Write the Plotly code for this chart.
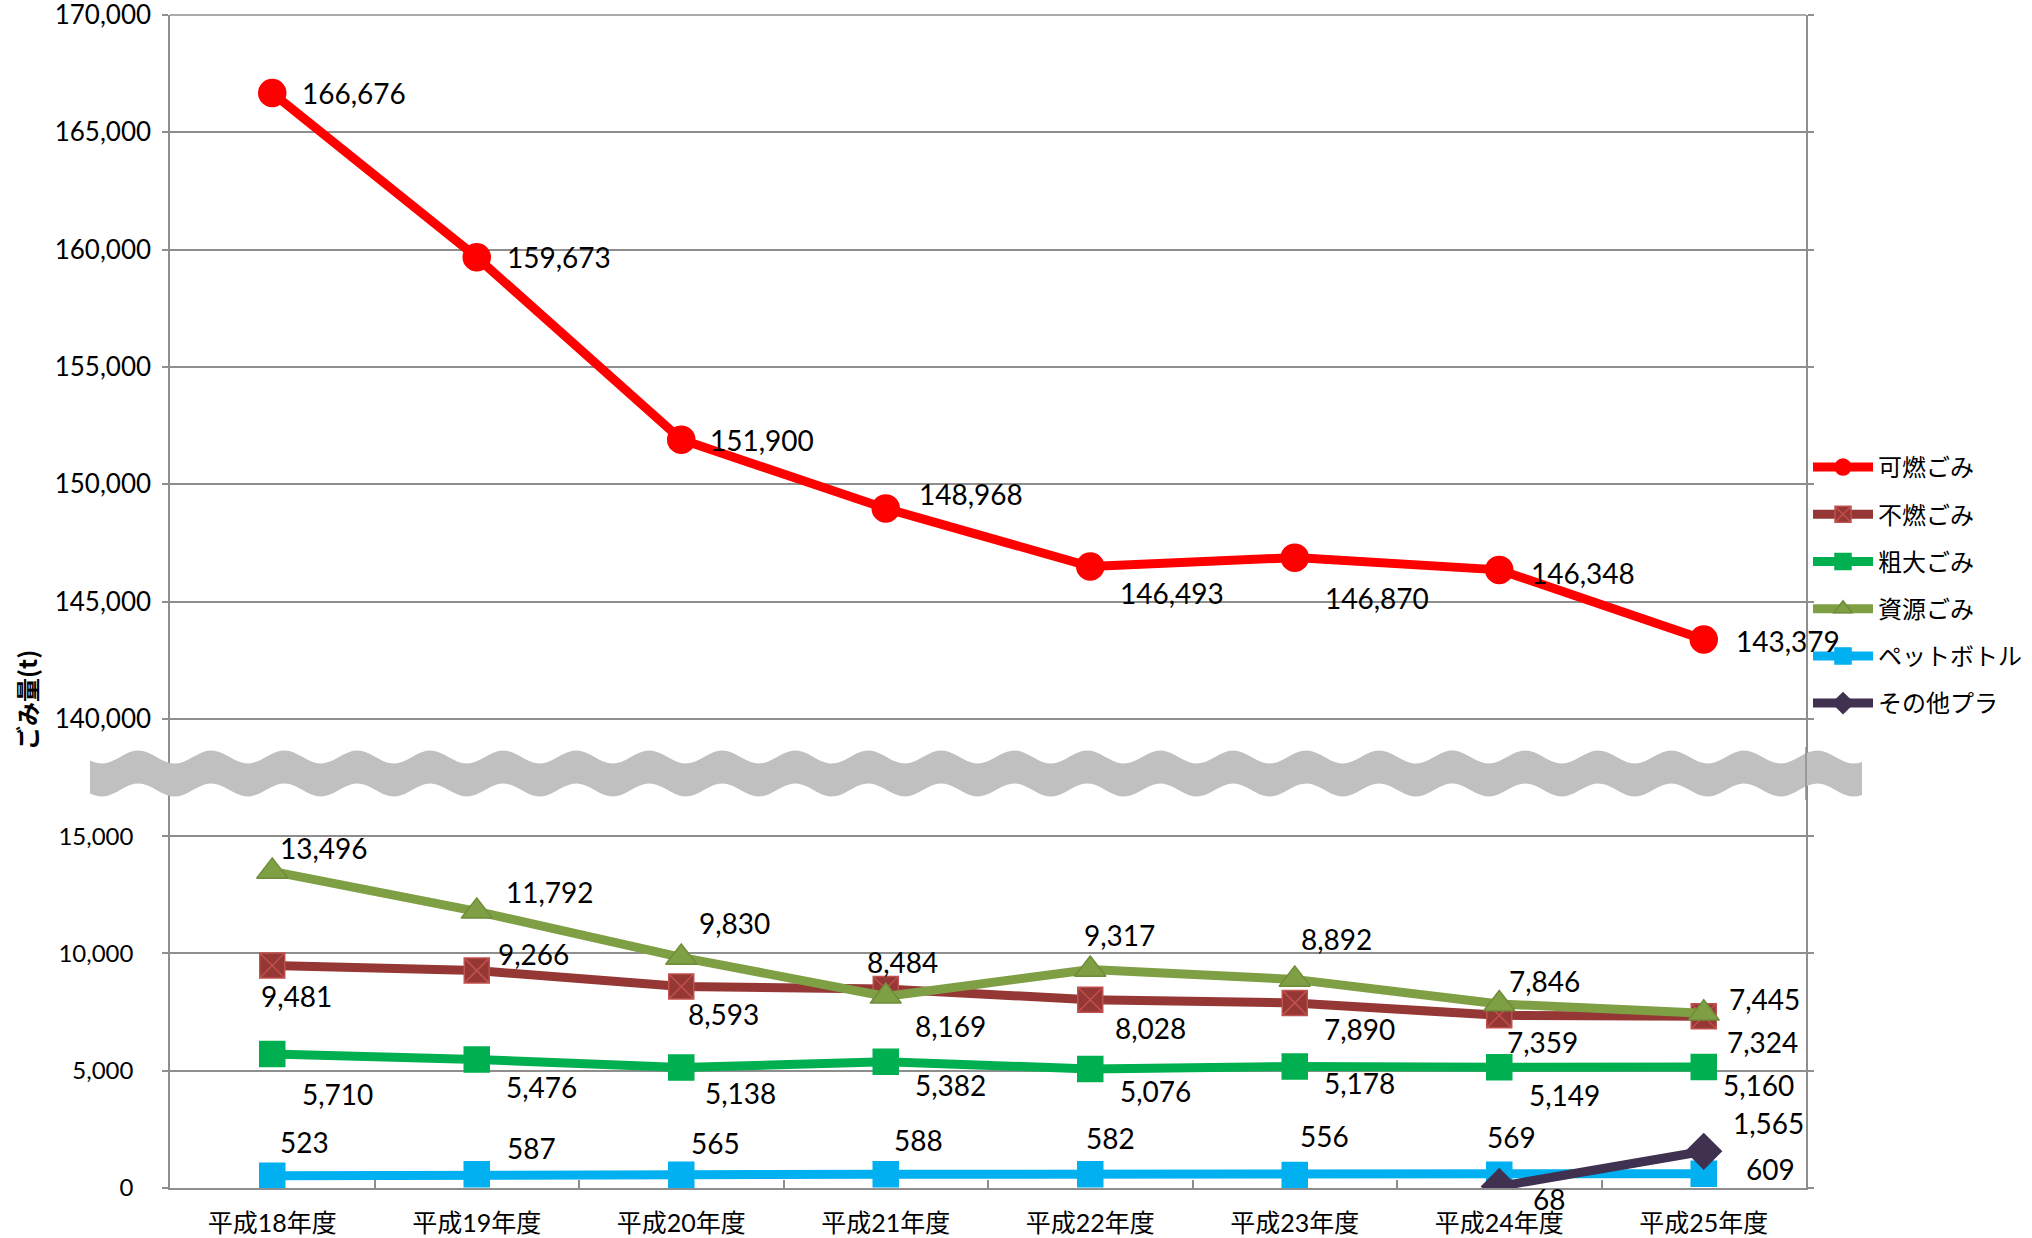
import math
import plotly.graph_objects as go

# ---------------- data ----------------
categories = ["平成18年度", "平成19年度", "平成20年度", "平成21年度",
              "平成22年度", "平成23年度", "平成24年度", "平成25年度"]

kanen = [166676, 159673, 151900, 148968, 146493, 146870, 146348, 143379]   # 可燃ごみ
funen = [9481, 9266, 8593, 8484, 8028, 7890, 7359, 7324]                   # 不燃ごみ
sodai = [5710, 5476, 5138, 5382, 5076, 5178, 5149, 5160]                   # 粗大ごみ
shigen = [13496, 11792, 9830, 8169, 9317, 8892, 7846, 7445]                # 資源ごみ
pet = [523, 587, 565, 588, 582, 556, 569, 609]                             # ペットボトル
sonota = [None, None, None, None, None, None, 68, 1565]                    # その他プラ

top_ticks = [140000, 145000, 150000, 155000, 160000, 165000, 170000]
bottom_ticks = [0, 5000, 10000, 15000]

# ---------------- style / layout helpers ----------------
W, H = 2032, 1238
ML, MR, MT, MB = 170, 226, 15, 50
PW, PH = W - ML - MR, H - MT - MB
NUMFONT = "Lato, 'Noto Sans CJK JP', sans-serif"
JPFONT = "'Noto Sans CJK JP', sans-serif"
GRID = "#8E8E8E"

series = [
    # name, values, axis, color, symbol, size, marker line color, label dx, label dy
    ("可燃ごみ", kanen, "y2", "#FF0000", "circle", 27, "#FF0000",
     [28, 28, 27, 31, 28, 28, 30, 30], [0, 0, 0, -14, 27, 40, 3, 1]),
    ("不燃ごみ", funen, "y", "#953735", "square-x", 25, "#C0504D",
     [-13, 19, 5, -21, 23, 27, 6, 21], [30, -17, 28, -27, 28, 26, 27, 26]),
    ("粗大ごみ", sodai, "y", "#00B050", "square", 25, "#00B050",
     [28, 27, 22, 27, 28, 27, 28, 17], [40, 27, 26, 23, 22, 16, 28, 18]),
    ("資源ごみ", shigen, "y", "#7F9F45", "triangle-up", 27, "#6E8C39",
     [6, 27, 16, 27, -8, 4, 8, 23], [-23, -19, -34, 30, -34, -40, -23, -14]),
    ("ペットボトル", pet, "y", "#00B0F0", "square", 25, "#00B0F0",
     [6, 28, 8, 6, -6, 3, -14, 40], [-34, -26, -32, -34, -36, -39, -38, -5]),
    ("その他プラ", sonota, "y", "#403151", "diamond", 27, "#403151",
     [0, 0, 0, 0, 0, 0, 32, 27], [0, 0, 0, 0, 0, 0, 13, -28]),
]

fig = go.Figure()
annotations = []
for name, vals, ax, color, sym, size, lcol, ldx, ldy in series:
    fig.add_trace(go.Scatter(
        x=categories, y=vals, name=name, yaxis=ax, mode="lines+markers",
        line=dict(color=color, width=9),
        marker=dict(symbol=sym, size=size, color=color,
                    line=dict(color=lcol, width=1.5)),
        legendgroup=name, connectgaps=False,
    ))
    for i, v in enumerate(vals):
        if v is None:
            continue
        annotations.append(dict(
            x=categories[i], y=v, xref="x", yref=ax,
            text=f"{v:,}", showarrow=False,
            xanchor="left", yanchor="middle",
            xshift=ldx[i], yshift=-ldy[i],
            font=dict(family=NUMFONT, size=28, color="#000000"),
        ))

# y-axis title
annotations.append(dict(
    x=(26 - ML) / PW, y=(H - MB - 700) / PH, xref="paper", yref="paper",
    text="<b>ごみ量(t)</b>", textangle=-90, showarrow=False,
    xanchor="center", yanchor="middle",
    font=dict(family=JPFONT, size=24, color="#000000"),
))

# ---------------- axis break band (decoration) ----------------
def px2paper(px, py):
    return (px - ML) / PW, (H - MB - py) / PH

x_start, x_end = 90, 1862
period, amp = 73.0, 6.5
top_c, bot_c = 757, 790
n = 400
pts_top, pts_bot = [], []
for k in range(n + 1):
    px = x_start + (x_end - x_start) * k / n
    off = amp * math.sin(2 * math.pi * (px - 120) / period)
    pts_top.append(px2paper(px, top_c - off))
    pts_bot.append(px2paper(px, bot_c - off))
path = "M " + " L ".join(f"{a:.5f},{b:.5f}" for a, b in pts_top)
path += " L " + " L ".join(f"{a:.5f},{b:.5f}" for a, b in reversed(pts_bot)) + " Z"

shapes = [
    # top gridline (170,000) that plotly clips at the axis end
    dict(type="line", xref="paper", yref="paper", x0=0, x1=1, y0=1, y1=1,
         line=dict(color=GRID, width=1.5), layer="below"),
    dict(type="path", path=path, xref="paper", yref="paper",
         fillcolor="#C0C0C0", line=dict(width=0), layer="above"),
    dict(type="line", xref="paper", yref="paper", x0=1, x1=1,
         y0=px2paper(0, bot_c + 10)[1], y1=px2paper(0, top_c - 10)[1],
         line=dict(color=GRID, width=1.5), layer="above"),
]

fig.update_layout(
    width=W, height=H,
    margin=dict(l=ML, r=MR, t=MT, b=MB, pad=0, autoexpand=False),
    paper_bgcolor="white", plot_bgcolor="white",
    showlegend=True,
    legend=dict(
        xref="container", yref="container",
        x=1808 / W, y=1 - 445 / H, xanchor="left", yanchor="top",
        font=dict(family=JPFONT, size=24, color="#000000"),
        bgcolor="rgba(0,0,0,0)", tracegroupgap=13, itemwidth=60,
        traceorder="grouped",
    ),
    xaxis=dict(
        type="category", range=[-0.5, 7.5], anchor="y", automargin=False,
        showline=True, linecolor=GRID, linewidth=1.5,
        ticks="inside", ticklen=8, tickcolor=GRID, tickwidth=1.5,
        tickson="boundaries", showgrid=False, zeroline=False,
        tickfont=dict(family=NUMFONT, size=25, color="#000000"),
        ticklabelstandoff=12, ticklabeloverflow="allow",
    ),
    yaxis=dict(
        domain=[0, 0.35], range=[0, 17500], tickvals=bottom_ticks,
        tickformat=",", showgrid=True, gridcolor=GRID, gridwidth=1.5,
        showline=True, linecolor=GRID, linewidth=1.5, mirror="ticks",
        ticks="outside", ticklen=6, tickcolor=GRID, tickwidth=1.5,
        zeroline=False, automargin=False, ticklabeloverflow="allow",
        tickfont=dict(family=NUMFONT, size=24, color="#000000"),
        ticklabelstandoff=24,
    ),
    yaxis2=dict(
        domain=[0.35, 1], range=[137500, 170000], tickvals=top_ticks,
        tickformat=",", showgrid=True, gridcolor=GRID, gridwidth=1.5,
        showline=True, linecolor=GRID, linewidth=1.5, mirror="ticks",
        ticks="outside", ticklen=6, tickcolor=GRID, tickwidth=1.5,
        zeroline=False, anchor="x", automargin=False, ticklabeloverflow="allow",
        tickfont=dict(family=NUMFONT, size=26, color="#000000"),
        ticklabelstandoff=6,
    ),
    annotations=annotations,
    shapes=shapes,
)

fig.write_html(
    "out.html",
    config={"displayModeBar": False},
    post_script="document.body.style.margin='0px';document.body.style.overflow='hidden';",
)
